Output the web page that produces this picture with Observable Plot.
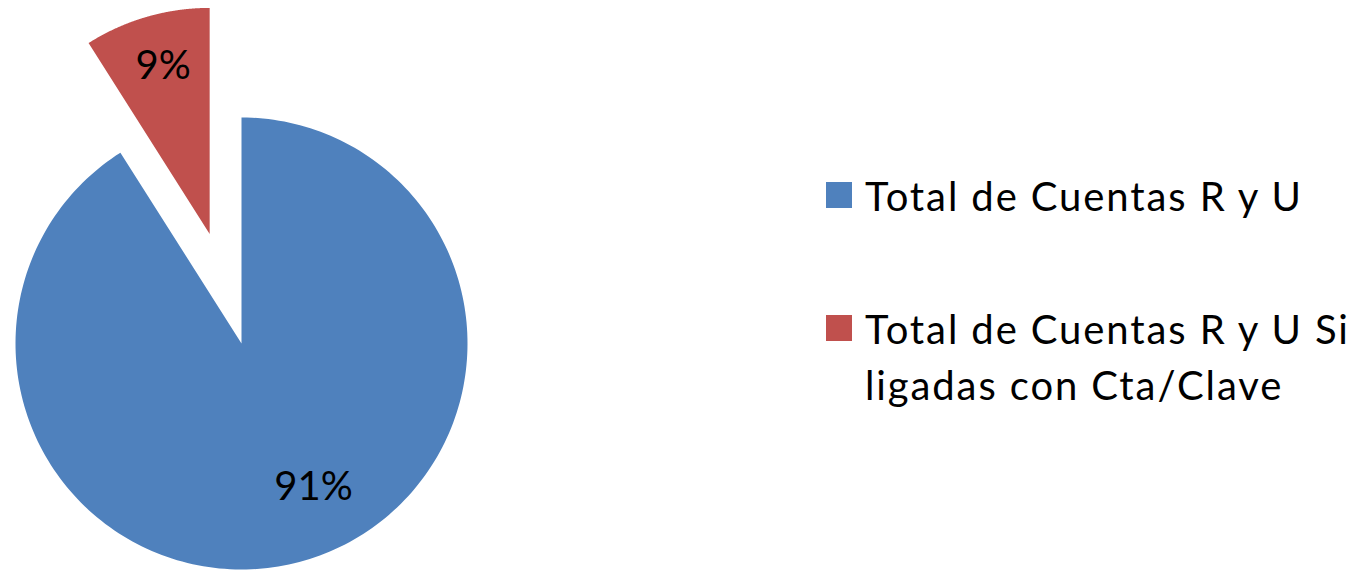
<!DOCTYPE html>
<html>
<head>
<meta charset="utf-8">
<script src="https://cdn.jsdelivr.net/npm/d3@7"></script>
<script src="https://cdn.jsdelivr.net/npm/@observablehq/plot@0.6"></script>
<style>
  html, body { margin: 0; padding: 0; background: #fff; }
  #wrap { position: relative; width: 1365px; height: 570px; overflow: hidden; font-family: Lato, "Open Sans", sans-serif; }
  #legend { position: absolute; left: 826px; top: 0; color: #000; font-size: 40px; }
  .item { position: absolute; left: 0; white-space: nowrap; }
  .sw { position: absolute; left: 0; width: 26px; height: 26px; }
  .lab { position: absolute; left: 39px; line-height: 56px; letter-spacing: 1.9px; }
</style>
</head>
<body>
<div id="wrap"><div id="chart"></div><div id="legend"></div></div>
<script>
// Data
const categories = ["Total de Cuentas R y U", "Total de Cuentas R y U Si ligadas con Cta/Clave"];
const legendLines = [["Total de Cuentas R y U"], ["Total de Cuentas R y U Si", "ligadas con Cta/Clave"]];
const values = [91, 9];
const labels = ["91%", "9%"];
const colors = ["#4F81BD", "#C0504D"];
const explode = [0, 0.505];          // fraction of radius each slice is pulled out
const labelRadius = [0.71, 0.77];    // label distance as fraction of radius
const labelAngleShift = [-10.5, 0.7]; // degrees, "best fit" adjustment

// Geometry from d3.pie (clockwise from 12 o'clock)
const pie = d3.pie().sort(null).startAngle(0).endAngle(2 * Math.PI)(values);
const pts = [];
const labelPts = [];
pie.forEach((s, i) => {
  const mid = (s.startAngle + s.endAngle) / 2;
  const ox = explode[i] * Math.sin(mid), oy = explode[i] * Math.cos(mid);
  pts.push({name: categories[i], x: ox, y: oy});
  const n = 240;
  for (let k = 0; k <= n; k++) {
    const a = s.startAngle + (s.endAngle - s.startAngle) * k / n;
    pts.push({name: categories[i], x: ox + Math.sin(a), y: oy + Math.cos(a)});
  }
  pts.push({name: categories[i], x: ox, y: oy});
  const la = mid + labelAngleShift[i] * Math.PI / 180;
  labelPts.push({label: labels[i], x: ox + labelRadius[i] * Math.sin(la), y: oy + labelRadius[i] * Math.cos(la)});
});

const R = 226, cx = 241, cy = 343, W = 1365, H = 570;
const chart = Plot.plot({
  width: W, height: H, margin: 0,
  x: {domain: [-cx / R, (W - cx) / R], axis: null},
  y: {domain: [-(H - cy) / R, cy / R], axis: null},
  color: {domain: categories, range: colors},
  marks: [
    Plot.line(pts, {x: "x", y: "y", z: "name", fill: "name", stroke: "none", curve: "linear"}),
    Plot.text(labelPts, {x: "x", y: "y", text: "label", fontSize: 40, fill: "#000", fontFamily: "Lato, 'Open Sans', sans-serif"})
  ]
});
document.getElementById("chart").appendChild(chart);

// Legend
const legend = d3.select("#legend");
const tops = [168, 301];
legendLines.forEach((lines, i) => {
  const it = legend.append("div").attr("class", "item").style("top", tops[i] + "px");
  it.append("div").attr("class", "sw").style("top", "14px").style("background", colors[i]);
  it.append("div").attr("class", "lab").style("top", "0px").html(lines.join("<br>"));
});
</script>
</body>
</html>
